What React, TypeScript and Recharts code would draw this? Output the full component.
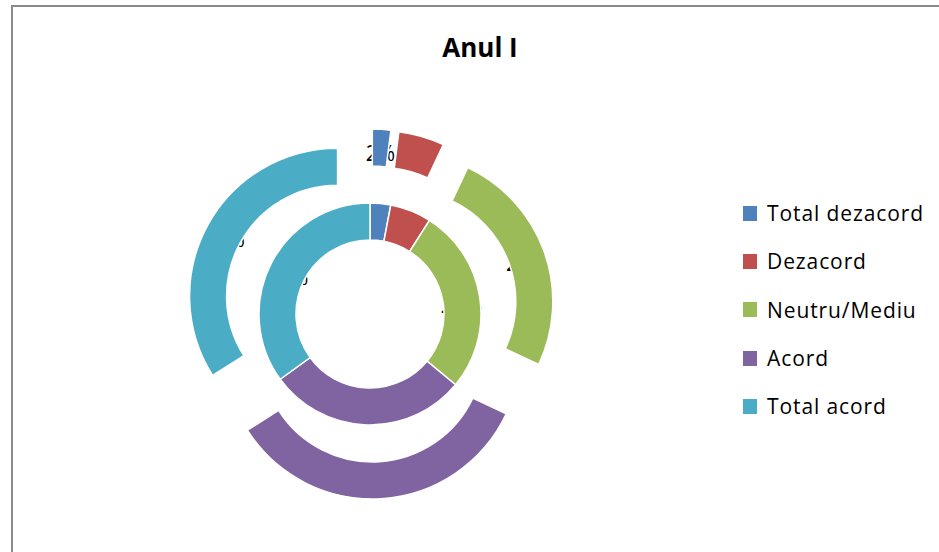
import React from "react";
import { PieChart, Pie, Cell, Legend } from "recharts";

const categories = ["Total dezacord", "Dezacord", "Neutru/Mediu", "Acord", "Total acord"];
const innerValues = [3, 6, 27, 29, 35];
const outerValues = [2, 5, 25, 34, 34];
const colors = ["#4F81BD", "#C0504D", "#9BBB59", "#8064A2", "#4BACC6"];
const title = "Anul I";

const CX = 370;
const CY = 314;
const EXPLODE = 37;
const RAD = Math.PI / 180;
const FONT = "'Open Sans', 'Liberation Sans', sans-serif";

const innerData = categories.map((name, i) => ({ name, value: innerValues[i] }));
const outerData = categories.map((name, i) => ({ name, value: outerValues[i] }));

// explode offset of each outer slice, along the slice's mid angle
const outerTotal = outerValues.reduce((a, b) => a + b, 0);
const outerOffsets = outerValues.map((v, i) => {
  const before = outerValues.slice(0, i).reduce((a, b) => a + b, 0);
  const start = 90 - (360 * before) / outerTotal;
  const end = start - (360 * v) / outerTotal;
  const mid = (start + end) / 2;
  return { dx: EXPLODE * Math.cos(mid * RAD), dy: -EXPLODE * Math.sin(mid * RAD) };
});

const makeLabel = (only?: number) => (props: any) => {
  const { cx, cy, midAngle, innerRadius, outerRadius, value, index } = props;
  if (only !== undefined && index !== only) return null;
  const r = (innerRadius + outerRadius) / 2;
  const x = cx + r * Math.cos(-midAngle * RAD);
  const y = cy + r * Math.sin(-midAngle * RAD) + 5;
  return (
    <text
      key={`lbl-${index}`}
      x={x}
      y={y}
      textAnchor="middle"
      dominantBaseline="central"
      fill="#000"
      fontSize={21}
      fontFamily={FONT}
    >
      {`${value}%`}
    </text>
  );
};

const LegendContent = () => (
  <div style={{ fontFamily: FONT }}>
    {categories.map((c, i) => (
      <div key={c} style={{ height: 48.3, display: "flex", alignItems: "center" }}>
        <div style={{ width: 14, height: 15, background: colors[i], marginRight: 10 }} />
        <span style={{ fontSize: 21, letterSpacing: 0.9, color: "#000" }}>{c}</span>
      </div>
    ))}
  </div>
);

const pieCommon = {
  dataKey: "value",
  startAngle: 90,
  endAngle: -270,
  isAnimationActive: false,
  legendType: "none" as const,
};

export default function App() {
  return (
    <div style={{ position: "absolute", left: 0, top: 0, width: 939, height: 552, overflow: "hidden", background: "#fff" }}>
      <div
        style={{
          position: "absolute",
          left: 11,
          top: 5,
          width: 1000,
          height: 600,
          borderLeft: "2px solid #8a8a8a",
          borderTop: "2px solid #8a8a8a",
        }}
      />
      <div
        style={{
          position: "absolute",
          left: 380,
          top: 34,
          width: 200,
          textAlign: "center",
          fontFamily: FONT,
          fontWeight: 700,
          fontSize: 26,
          lineHeight: "26px",
          color: "#000",
        }}
      >
        {title}
      </div>
      {/* bottom layer: data labels (the slices are drawn over them, as in the reference) */}
      <div style={{ position: "absolute", left: 0, top: 0 }}>
        <PieChart width={939} height={552} margin={{ top: 0, right: 0, bottom: 0, left: 0 }}>
          <Pie
            {...pieCommon}
            data={innerData}
            cx={CX}
            cy={CY}
            innerRadius={74}
            outerRadius={111}
            fill="transparent"
            stroke="none"
            label={makeLabel()}
            labelLine={false}
          />
          {outerOffsets.map((o, i) => (
            <Pie
              key={`ol-${i}`}
              {...pieCommon}
              data={outerData}
              cx={CX + o.dx}
              cy={CY + o.dy}
              innerRadius={111}
              outerRadius={148}
              fill="transparent"
              stroke="none"
              label={makeLabel(i)}
              labelLine={false}
            />
          ))}
        </PieChart>
      </div>
      {/* top layer: slices and legend */}
      <div style={{ position: "absolute", left: 0, top: 0 }}>
        <PieChart width={939} height={552} margin={{ top: 0, right: 0, bottom: 0, left: 0 }}>
          <Pie
            {...pieCommon}
            data={innerData}
            cx={CX}
            cy={CY}
            innerRadius={74}
            outerRadius={111}
            stroke="#fff"
            strokeWidth={1.5}
          >
            {innerData.map((d, i) => (
              <Cell key={d.name} fill={colors[i]} />
            ))}
          </Pie>
          {outerOffsets.map((o, i) => (
            <Pie
              key={`os-${i}`}
              {...pieCommon}
              data={outerData}
              cx={CX + o.dx}
              cy={CY + o.dy}
              innerRadius={111}
              outerRadius={148}
            >
              {outerData.map((d, j) => (
                <Cell
                  key={d.name}
                  fill={j === i ? colors[j] : "transparent"}
                  stroke={j === i ? "#fff" : "none"}
                  strokeWidth={1.5}
                />
              ))}
            </Pie>
          ))}
          <Legend
            layout="vertical"
            align="right"
            verticalAlign="top"
            content={<LegendContent />}
            wrapperStyle={{ left: 743, top: 189, right: "auto", bottom: "auto", width: 196 }}
          />
        </PieChart>
      </div>
    </div>
  );
}
